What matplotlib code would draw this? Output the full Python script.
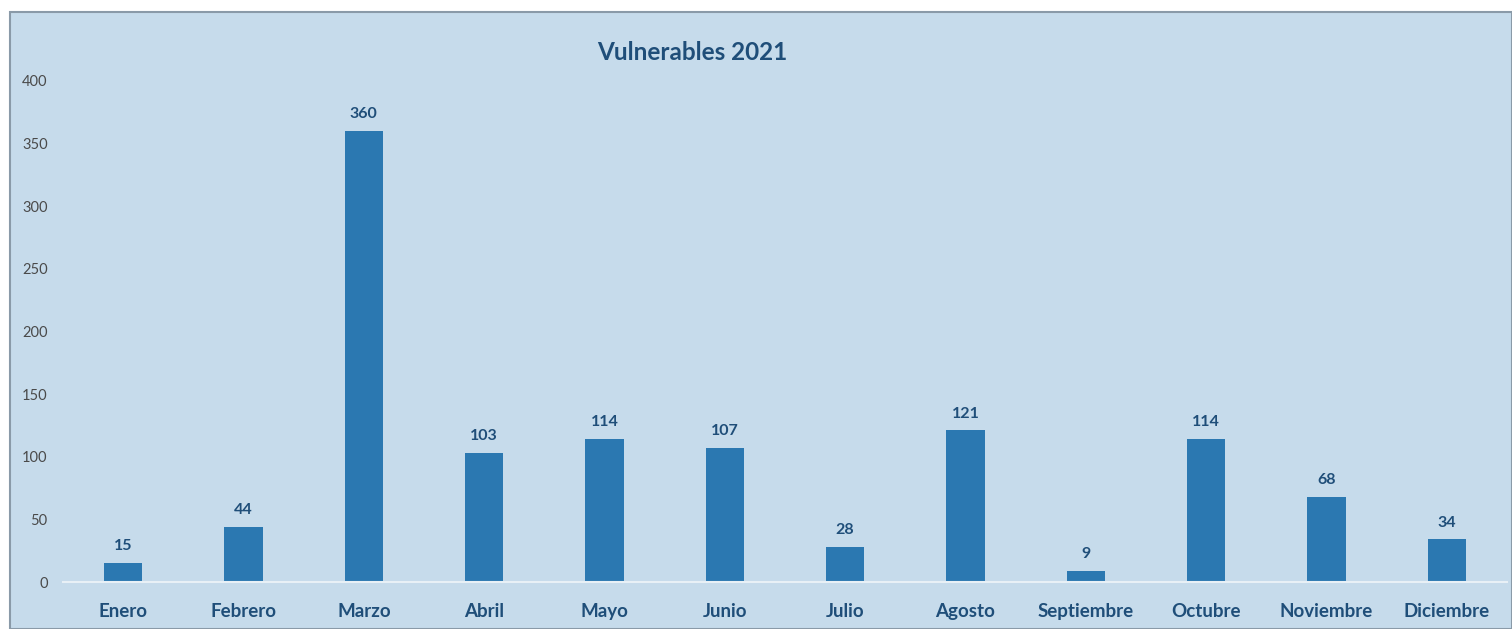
import matplotlib.pyplot as plt
from matplotlib.patches import Rectangle
import numpy as np

meses = ["Enero", "Febrero", "Marzo", "Abril", "Mayo", "Junio", "Julio",
         "Agosto", "Septiembre", "Octubre", "Noviembre", "Diciembre"]
valores = [15, 44, 360, 103, 114, 107, 28, 121, 9, 114, 68, 34]
yticks = [0, 50, 100, 150, 200, 250, 300, 350, 400]

bg = "#c6dbeb"
bar_color = "#2b78b1"
dark = "#1f4e79"

plt.rcParams['font.family'] = ['Lato', 'DejaVu Sans']

fig = plt.figure(figsize=(15.12, 6.29), dpi=100, facecolor="white")
# panel background with a thin frame
fig.patches.append(Rectangle((10 / 1512, 0), 1 - 10 / 1512, 1 - 12 / 629,
                             transform=fig.transFigure, facecolor=bg,
                             edgecolor="#8a9aa8", linewidth=1.5, zorder=-5))

ax = fig.add_axes([63 / 1512, 47 / 629, 1444 / 1512, 501 / 629])
ax.set_facecolor("none")
ax.set_zorder(1)

x = np.arange(len(meses))
bars = ax.bar(x, valores, width=0.32, color=bar_color, zorder=2)

for b, v in zip(bars, valores):
    ax.annotate(str(v), (b.get_x() + b.get_width() / 2, v),
                xytext=(0, 7), textcoords="offset points",
                ha="center", va="bottom", fontsize=11.5, fontweight="bold",
                color=dark)

ax.set_xlim(-0.5, len(meses) - 0.5)
ax.set_ylim(0, 400)
ax.set_yticks(yticks)
ax.set_xticks(x)
ax.set_xticklabels(meses, fontsize=13.5, fontweight="bold", color=dark)
ax.tick_params(axis="y", labelsize=10.5, labelcolor="#4a4a4a", length=0, pad=11)
ax.tick_params(axis="x", length=0, pad=15)

for s in ["top", "right", "left"]:
    ax.spines[s].set_visible(False)
ax.spines["bottom"].set_color("#e8f0f6")
ax.spines["bottom"].set_linewidth(1.5)

fig.text(692 / 1512, 1 - 52 / 629, "Vulnerables 2021", ha="center", va="center",
         fontsize=17.5, fontweight="bold", color=dark)

fig.savefig("out.png", dpi=100, facecolor=fig.get_facecolor())
